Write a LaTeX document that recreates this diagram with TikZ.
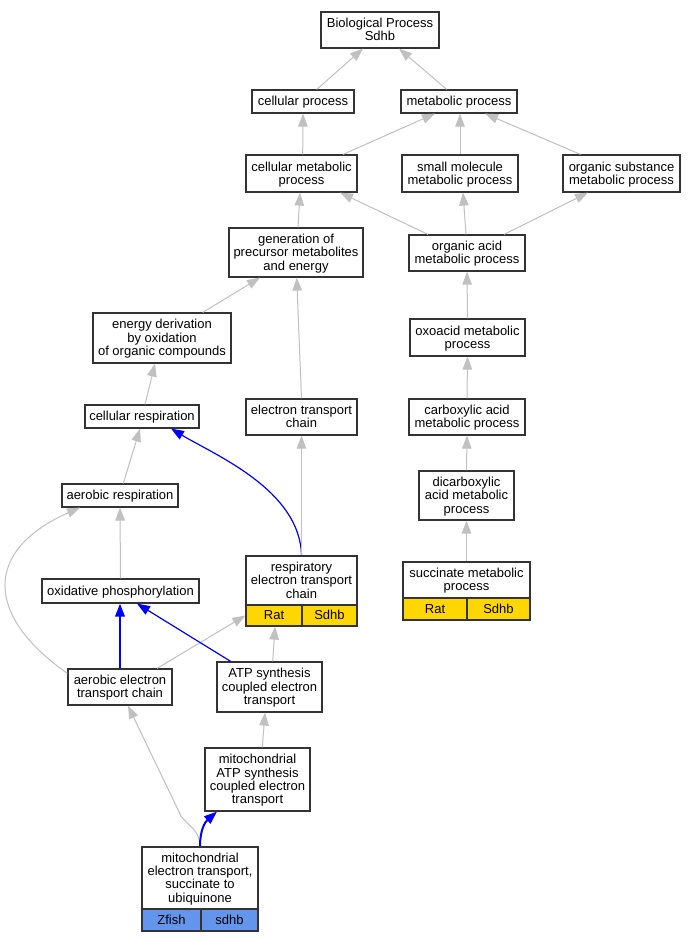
\documentclass[tikz,border=0pt]{standalone}
\usepackage{fontspec}
\setmainfont{Liberation Sans}
\usetikzlibrary{arrows.meta,calc}
\definecolor{edgegray}{HTML}{C0C0C0}
\definecolor{goldfill}{HTML}{FFD700}
\definecolor{cbluefill}{HTML}{6495ED}
\definecolor{boxline}{HTML}{333333}
\definecolor{edgeblue}{HTML}{0000FF}
\newcommand\gonode[7][gobox]{\node[#1, minimum width=#5pt, minimum height=#6pt] (#2) at (#3,#4) {\rule{0pt}{11.5pt}#7\rule[-3pt]{0pt}{3pt}};}
\begin{document}
\begin{tikzpicture}[x=1pt,y=-1pt,
  gobox/.style={draw=boxline, line width=1.2pt, fill=white, inner sep=0pt, align=center, font=\fontsize{13}{13.3}\selectfont},
  goldcell/.style={gobox, fill=goldfill},
  bluecell/.style={gobox, fill=cbluefill},
  isa/.style={draw=edgegray, line width=1pt, -{Triangle[length=13pt,width=9.5pt]}},
  bluethin/.style={draw=edgeblue, line width=1.2pt, -{Triangle[length=13pt,width=9.5pt]}},
  bluethick/.style={draw=edgeblue, line width=2pt, -{Triangle[length=13pt,width=9.5pt]}}]
\useasboundingbox (0,0) rectangle (694,941);
\fill[white] (0,0) rectangle (694,941);
% nodes
\gonode{BP}{380}{30}{118}{36}{Biological Process\\Sdhb}
\gonode{cp}{303}{101.5}{102}{23}{cellular process}
\gonode{mp}{459}{101.5}{116}{23}{metabolic process}
\gonode{cmp}{301.5}{173.5}{111}{37}{cellular metabolic\\process}
\gonode{smp}{460}{173.5}{116}{37}{small molecule\\metabolic process}
\gonode{osm}{621.5}{173.5}{117}{37}{organic substance\\metabolic process}
\gonode{gen}{296}{252.5}{134}{49}{generation of\\precursor metabolites\\and energy}
\gonode{ed}{162}{338}{138}{50}{energy derivation\\by oxidation\\of organic compounds}
\gonode{cr}{142}{416.5}{114}{23}{cellular respiration}
\gonode{etc}{301.5}{417}{111}{36}{electron transport\\chain}
\gonode{oa}{467}{253}{116}{36}{organic acid\\metabolic process}
\gonode{oxo}{467.5}{337.5}{115}{37}{oxoacid metabolic\\process}
\gonode{carb}{467}{417}{116}{36}{carboxylic acid\\metabolic process}
\gonode{dic}{466.5}{495.5}{95}{49}{dicarboxylic\\acid metabolic\\process}
\gonode{succ}{466.5}{580}{127}{36}{succinate metabolic\\process}
\gonode[goldcell]{succR}{435}{609}{64}{22}{Rat}
\gonode[goldcell]{succS}{498.5}{609}{63}{22}{Sdhb}
\gonode{ar}{120}{495.5}{116}{23}{aerobic respiration}
\gonode{op}{120.5}{591}{157}{24}{oxidative phosphorylation}
\gonode{retc}{301.5}{580.5}{111}{49}{respiratory\\electron transport\\chain}
\gonode[goldcell]{retcR}{274}{615.5}{56}{21}{Rat}
\gonode[goldcell]{retcS}{329.5}{615.5}{55}{21}{Sdhb}
\gonode{aetc}{120}{687}{104}{36}{aerobic electron\\transport chain}
\gonode{atp}{269.5}{687}{105}{50}{ATP synthesis\\coupled electron\\transport}
\gonode{matp}{257.5}{779.5}{105}{63}{mitochondrial\\ATP synthesis\\coupled electron\\transport}
\gonode{met}{200}{878}{116}{62}{mitochondrial\\electron transport,\\succinate to\\ubiquinone}
\gonode[bluecell]{metZ}{171.5}{920}{59}{22}{Zfish}
\gonode[bluecell]{metS}{229.5}{920}{57}{22}{sdhb}
% edges
\draw[isa] ($(cp.north)+(13.7,0)$) -- ($(BP.south)+(-17,0)$);
\draw[isa] ($(mp.north)+(-12.3,0)$) -- ($(BP.south)+(19,0)$);
\draw[isa] ($(cmp.north)+(1.2,0)$) -- (cp.south);
\draw[isa] ($(cmp.north)+(41.5,0)$) -- ($(mp.south)+(-24,0)$);
\draw[isa] (smp.north) -- ($(mp.south)+(1,0)$);
\draw[isa] ($(osm.north)+(-41,0)$) -- ($(mp.south)+(26,0)$);
\draw[isa] ($(gen.north)+(2,0)$) -- ($(cmp.south)+(-1.5,0)$);
\draw[isa] ($(oa.north)+(-39,0)$) -- ($(cmp.south)+(38.5,0)$);
\draw[isa] ($(oa.north)+(-1,0)$) -- ($(smp.south)+(3,0)$);
\draw[isa] ($(oa.north)+(37,0)$) -- ($(osm.south)+(-33.5,0)$);
\draw[isa] ($(ed.north)+(40.7,0)$) -- ($(gen.south)+(-36,0)$);
\draw[isa] (etc.north) -- ($(gen.south)+(0.7,0)$);
\draw[isa] ($(cr.north)+(3,0)$) -- ($(ed.south)+(-7,0)$);
\draw[isa] (oxo.north) -- (oa.south);
\draw[isa] (carb.north) -- (oxo.south);
\draw[isa] (dic.north) -- (carb.south);
\draw[isa] (succ.north) -- (dic.south);
\draw[isa] ($(ar.north)+(3.3,0)$) -- ($(cr.south)+(-2,0)$);
\draw[bluethin] (retc.north) .. controls (300,490) and (215,455) .. ($(cr.south)+(29,0)$);
\draw[isa] (retc.north) -- (etc.south);
\draw[isa] (op.north) -- (ar.south);
\draw[isa] ($(aetc.north west)+(0,5)$) .. controls (-16,615) and (-16,550) .. ($(ar.south)+(-40,0)$);
\draw[bluethick] (aetc.north) -- ($(op.south)+(-0.5,0)$);
\draw[isa] ($(aetc.north)+(37,0)$) -- (retcR.west);
\draw[bluethin] ($(atp.north)+(-38.8,0)$) -- ($(op.south)+(16.5,0)$);
\draw[isa] ($(atp.north)+(3.2,0)$) -- ($(retcR.south)+(1,0)$);
\draw[isa] ($(matp.north)+(4.8,0)$) -- ($(atp.south)+(-4.5,0)$);
\draw[isa] (met.north) .. controls (200,830) and (188,826) .. (181,816) -- ($(aetc.south)+(8,0)$);
\draw[bluethick] (met.north) .. controls (200,830) and (205,822) .. ($(matp.south)+(-40.5,0)$);
\end{tikzpicture}
\end{document}
